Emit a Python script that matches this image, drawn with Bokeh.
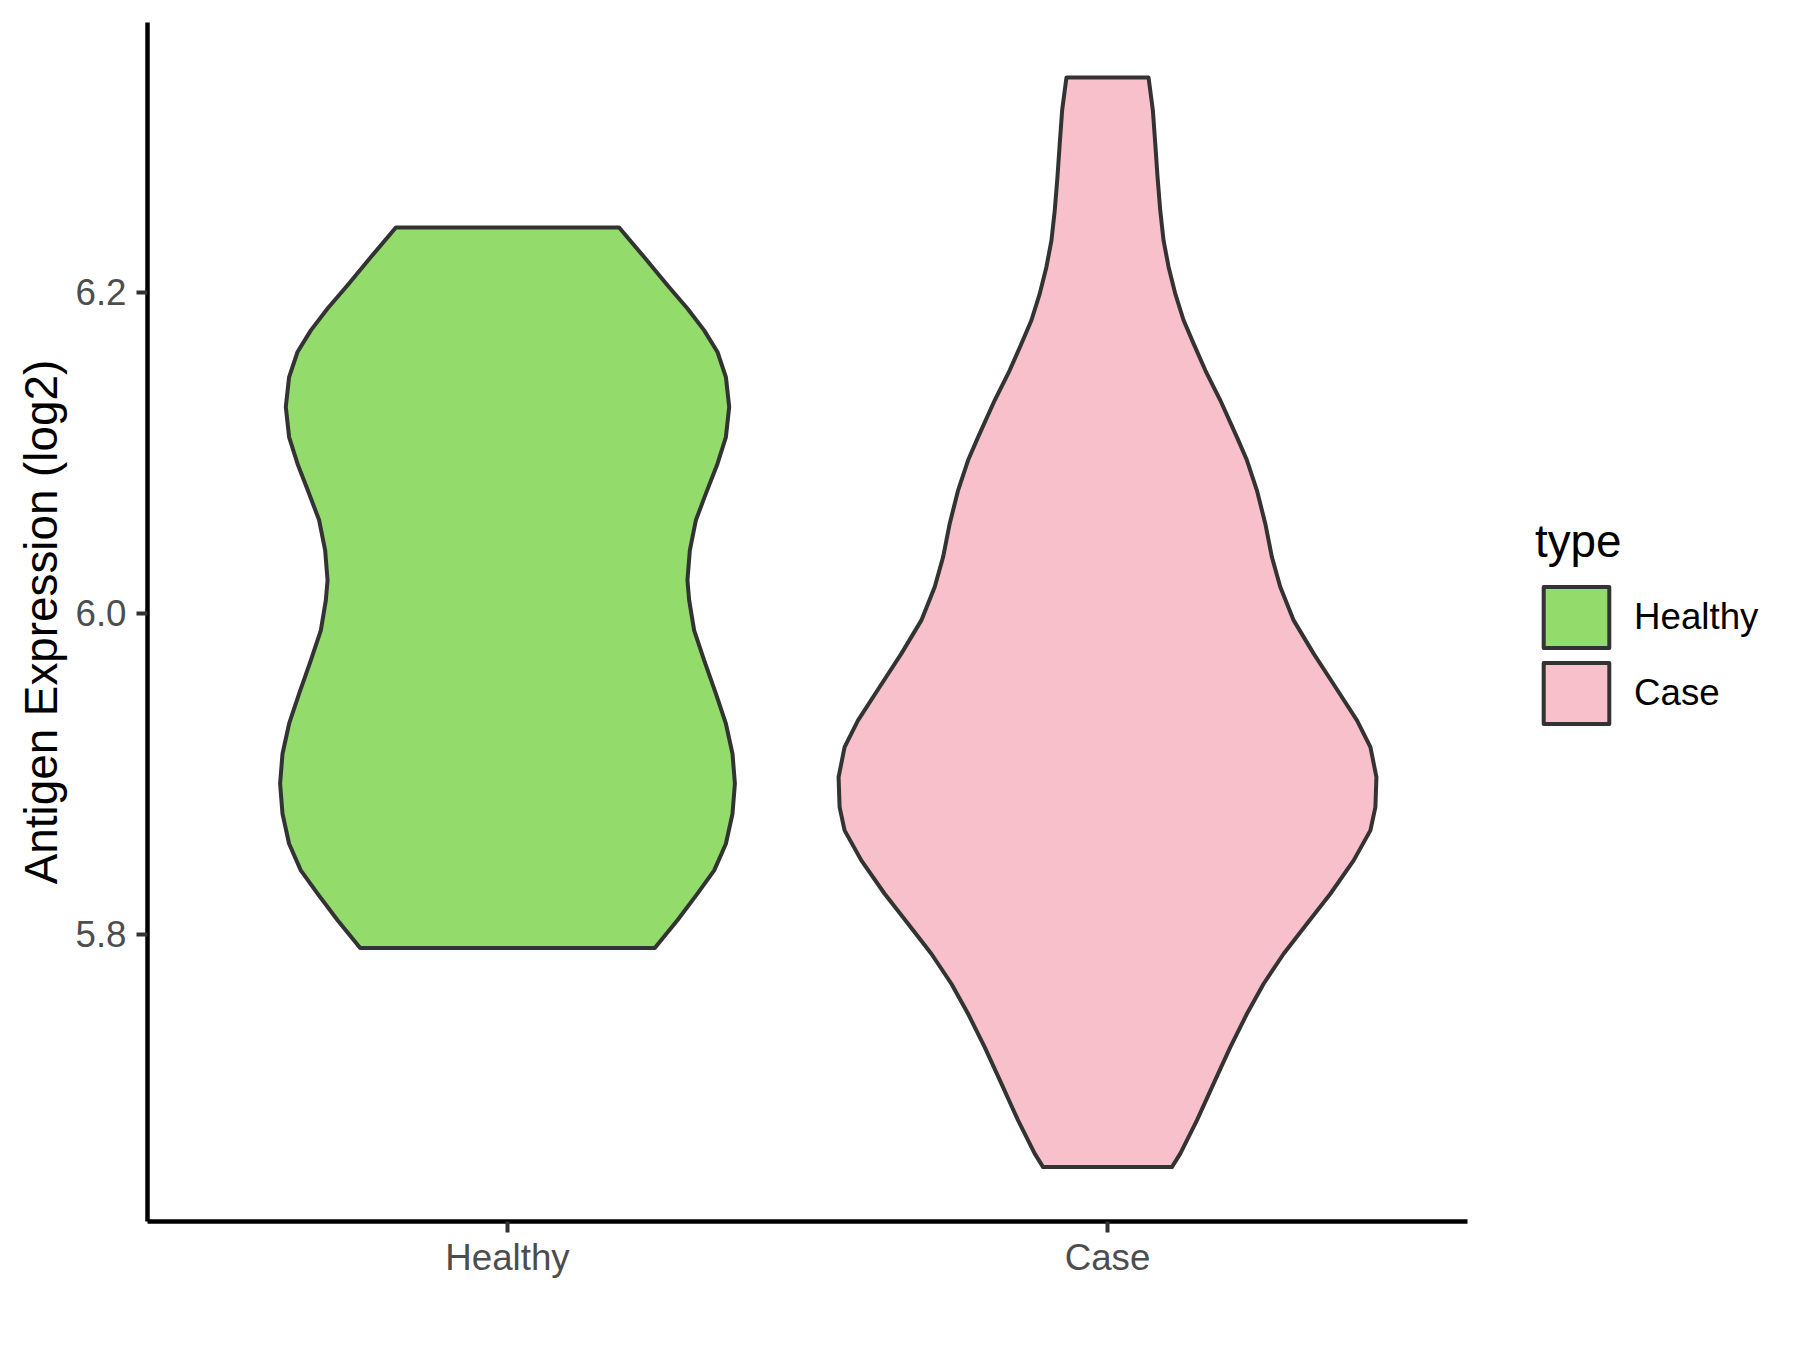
from bokeh.plotting import figure
from bokeh.models import (FactorRange, Range1d, FixedTicker, PrintfTickFormatter,
                          Legend, LegendItem)
from bokeh.embed import file_html
from bokeh.resources import INLINE

# ---- data ----
categories = ["Healthy", "Case"]
colors = ["#93DB6B", "#F7C0CB"]

healthy_y = [6.2405, 6.2221, 6.2045, 6.1900, 6.1764, 6.1629, 6.1473, 6.1286, 6.1099,
             6.0933, 6.0746, 6.0580, 6.0393, 6.0206, 6.0081, 5.9894, 5.9707, 5.9499,
             5.9312, 5.9125, 5.8938, 5.8751, 5.8564, 5.8398, 5.8253, 5.8087, 5.7914]
healthy_halfwidth = [0.186, 0.2277, 0.2666, 0.2999, 0.3278, 0.350, 0.364, 0.3695, 0.364,
                     0.350, 0.3306, 0.3139, 0.3039, 0.2999, 0.3028, 0.3111, 0.3278, 0.3473,
                     0.364, 0.375, 0.379, 0.375, 0.364, 0.3445, 0.3166, 0.2832, 0.2455]

case_y = [6.3340, 6.3136, 6.2928, 6.2720, 6.2512, 6.2325, 6.2159, 6.1993, 6.1827, 6.1681,
          6.1515, 6.1328, 6.1089, 6.0954, 6.0767, 6.0559, 6.0351, 6.0164, 5.9956, 5.9749,
          5.9541, 5.9333, 5.9166, 5.8979, 5.8792, 5.8647, 5.8460, 5.8252, 5.8065, 5.7878,
          5.7691, 5.7504, 5.7296, 5.7068, 5.6839, 5.6632, 5.6548]
case_halfwidth = [0.0684, 0.0756, 0.0796, 0.0834, 0.0879, 0.0934, 0.1018, 0.1129, 0.1268,
                  0.1435, 0.163, 0.188, 0.2168, 0.2324, 0.249, 0.263, 0.274, 0.288, 0.3103,
                  0.3436, 0.3798, 0.4158, 0.4382, 0.4482, 0.4465, 0.4382, 0.4103, 0.3715,
                  0.3324, 0.2936, 0.2602, 0.2324, 0.2047, 0.1768, 0.149, 0.1213, 0.1073]

y_ticks = [5.8, 6.0, 6.2]
y_range = (5.6209, 6.3683)
y_label = "Antigen Expression (log2)"
legend_title = "type"

FONT = "Liberation Sans"

p = figure(width=1792, height=1342, output_backend="svg", toolbar_location=None,
           x_range=FactorRange(factors=categories, range_padding=0.1,
                               range_padding_units="absolute"),
           y_range=Range1d(*y_range),
           min_border_left=147, min_border_right=0, min_border_top=22,
           min_border_bottom=121)
p.outline_line_color = None
p.xgrid.visible = False
p.ygrid.visible = False
p.background_fill_color = "white"
p.border_fill_color = "white"


def violin(cat, ys, hws, color):
    xs = [(cat, -w) for w in hws] + [(cat, w) for w in reversed(hws)]
    yy = list(ys) + list(reversed(ys))
    return p.patch(x=xs, y=yy, fill_color=color, line_color="#333333",
                   line_width=4, line_join="round")


r1 = violin(categories[0], healthy_y, healthy_halfwidth, colors[0])
r2 = violin(categories[1], case_y, case_halfwidth, colors[1])

for ax in (p.xaxis[0], p.yaxis[0]):
    ax.axis_line_color = "black"
    ax.axis_line_width = 4.5
    ax.major_tick_line_color = "#333333"
    ax.major_tick_line_width = 4
    ax.major_tick_out = 11
    ax.major_tick_in = 0
    ax.minor_tick_line_color = None
    ax.major_label_text_font = FONT
    ax.major_label_text_font_size = "36.7px"
    ax.major_label_text_color = "#4D4D4D"

p.xaxis[0].major_label_standoff = 4
p.yaxis[0].major_label_standoff = 10
p.yaxis[0].ticker = FixedTicker(ticks=y_ticks)
p.yaxis[0].formatter = PrintfTickFormatter(format="%.1f")
p.yaxis[0].axis_label = y_label
p.yaxis[0].axis_label_text_font = FONT
p.yaxis[0].axis_label_text_font_size = "45.8px"
p.yaxis[0].axis_label_text_font_style = "normal"
p.yaxis[0].axis_label_text_color = "black"
p.yaxis[0].axis_label_standoff = 5

legend = Legend(items=[LegendItem(label=categories[0], renderers=[r1]),
                       LegendItem(label=categories[1], renderers=[r2])],
                title=legend_title, location=(68, 490))
legend.title_text_font = FONT
legend.title_text_font_size = "45.8px"
legend.title_text_font_style = "normal"
legend.title_text_color = "black"
legend.title_standoff = 11
legend.label_text_font = FONT
legend.label_text_font_size = "36.7px"
legend.label_text_color = "black"
legend.glyph_width = 82
legend.glyph_height = 76
legend.spacing = 0
legend.label_standoff = 17
legend.padding = 0
legend.margin = -158
legend.border_line_color = None
legend.background_fill_alpha = 0
p.add_layout(legend, "right")

open("out.html", "w").write(file_html(p, INLINE))
